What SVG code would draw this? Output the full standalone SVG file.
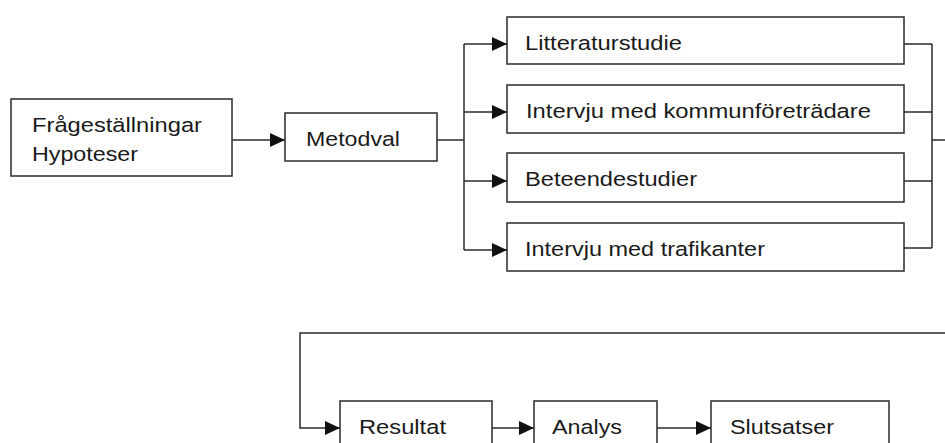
<svg xmlns="http://www.w3.org/2000/svg" width="945" height="443" viewBox="0 0 945 443">
<style>
  .box { fill: #ffffff; stroke: #2a2a2a; stroke-width: 1.5; }
  .lbl { font-family: "Liberation Sans", Arial, sans-serif; font-size: 20.5px; fill: #1a1a1a; }
  .con { fill: none; stroke: #2a2a2a; stroke-width: 1.5; }
</style>
<defs>
  <marker id="arr" markerUnits="userSpaceOnUse" markerWidth="16" markerHeight="14" refX="15" refY="7" orient="auto">
    <path d="M0,0 L15,7 L0,14 z" fill="#111"/>
  </marker>
</defs>
<rect width="945" height="443" fill="#ffffff"/>

<g id="connectors">
  <path class="con" d="M232,140 H285" marker-end="url(#arr)"/>
  <path class="con" d="M437,140 H464"/>
  <path class="con" d="M464,44 V250"/>
  <path class="con" d="M464,44 H507" marker-end="url(#arr)"/>
  <path class="con" d="M464,112 H507" marker-end="url(#arr)"/>
  <path class="con" d="M464,181 H507" marker-end="url(#arr)"/>
  <path class="con" d="M464,250 H507" marker-end="url(#arr)"/>
  <path class="con" d="M904,44 H932 M904,112 H932 M904,181 H932 M904,248 H932"/>
  <path class="con" d="M932,44 V248"/>
  <path class="con" d="M932,140 H945"/>
  <path class="con" d="M945,333 H300 V428 H340" marker-end="url(#arr)"/>
  <path class="con" d="M492,428 H534" marker-end="url(#arr)"/>
  <path class="con" d="M657,428 H711" marker-end="url(#arr)"/>
</g>

<g id="fragestallningar">
  <rect class="box" x="11" y="99" width="221" height="77"/>
  <text class="lbl" x="32" y="131.5" textLength="170" lengthAdjust="spacingAndGlyphs">Frågeställningar</text>
  <text class="lbl" x="32" y="161" textLength="106" lengthAdjust="spacingAndGlyphs">Hypoteser</text>
</g>
<g id="metodval">
  <rect class="box" x="285" y="113" width="152" height="48"/>
  <text class="lbl" x="306" y="146" textLength="94" lengthAdjust="spacingAndGlyphs">Metodval</text>
</g>
<g id="litteraturstudie">
  <rect class="box" x="507" y="17" width="397" height="47"/>
  <text class="lbl" x="525" y="49.5" textLength="157" lengthAdjust="spacingAndGlyphs">Litteraturstudie</text>
</g>
<g id="intervju-kommun">
  <rect class="box" x="507" y="85" width="397" height="48"/>
  <text class="lbl" x="526" y="118" textLength="345" lengthAdjust="spacingAndGlyphs">Intervju med kommunföreträdare</text>
</g>
<g id="beteendestudier">
  <rect class="box" x="507" y="153" width="397" height="49"/>
  <text class="lbl" x="525" y="186" textLength="172" lengthAdjust="spacingAndGlyphs">Beteendestudier</text>
</g>
<g id="intervju-trafikanter">
  <rect class="box" x="507" y="223" width="397" height="48"/>
  <text class="lbl" x="525" y="255.5" textLength="240" lengthAdjust="spacingAndGlyphs">Intervju med trafikanter</text>
</g>
<g id="resultat">
  <rect class="box" x="340" y="401" width="152" height="50"/>
  <text class="lbl" x="359" y="434" textLength="87" lengthAdjust="spacingAndGlyphs">Resultat</text>
</g>
<g id="analys">
  <rect class="box" x="534" y="401" width="123" height="50"/>
  <text class="lbl" x="552" y="434" textLength="70" lengthAdjust="spacingAndGlyphs">Analys</text>
</g>
<g id="slutsatser">
  <rect class="box" x="711" y="401" width="178" height="50"/>
  <text class="lbl" x="730" y="434" textLength="104" lengthAdjust="spacingAndGlyphs">Slutsatser</text>
</g>
</svg>
